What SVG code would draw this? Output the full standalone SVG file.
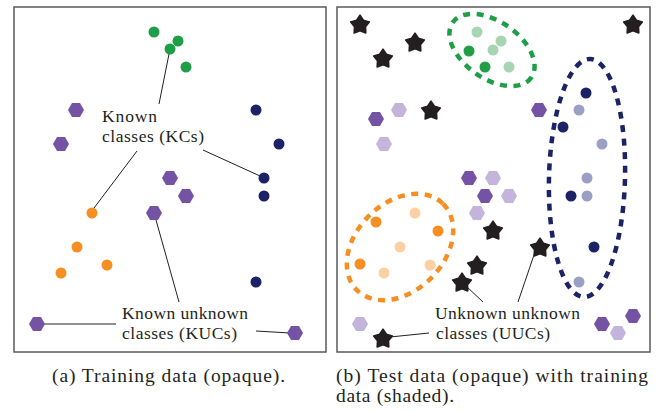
<svg xmlns="http://www.w3.org/2000/svg" xmlns:xlink="http://www.w3.org/1999/xlink" width="656" height="412" viewBox="0 0 656 412">
<style>
.panel{fill:#fff;stroke:#5a5a5a;stroke-width:1.5}
.lbl{font-family:"Liberation Serif","Times New Roman",serif;font-size:17.5px;fill:#231f20}
.cap{font-family:"Liberation Serif","Times New Roman",serif;font-size:19.5px;fill:#231f20}
.ln{stroke:#231f20;stroke-width:1;fill:none}
.lng{stroke:#6d6d6d;stroke-width:1.6;fill:none}
.g{fill:#1f9e48}.gl{fill:#a8d5b1}
.o{fill:#f68e21}.ol{fill:#fcd0a2}
.n{fill:#1b2265}.nl{fill:#9c9fc4}
.p{fill:#7453a4}.pl{fill:#c2b4db}
.s{fill:#231f20;stroke:#231f20;stroke-width:1.6;stroke-linejoin:round}
.ell{fill:none;stroke-width:4.5;stroke-dasharray:7 6.5}
</style>
<defs>
<circle id="dot" r="5.5"/>
<path id="hex" d="M8,0 L4,6.93 L-4,6.93 L-8,0 L-4,-6.93 L4,-6.93 Z"/>
<path id="star" d="M0,-9.8 L3.4,-4.7 L9.3,-3.0 L5.5,1.8 L5.8,7.9 L0,5.8 L-5.8,7.9 L-5.5,1.8 L-9.3,-3.0 L-3.4,-4.7 Z"/>
</defs>

<rect class="panel" x="14" y="7" width="312" height="345"/>
<rect class="panel" x="337" y="7" width="313" height="345"/>

<g id="connectors">
<line class="ln" x1="169" y1="54" x2="159" y2="104"/>
<line class="ln" x1="137" y1="151" x2="94" y2="208"/>
<line class="ln" x1="203" y1="150" x2="260" y2="176"/>
<line class="ln" x1="156" y1="220" x2="179" y2="302"/>
<line class="lng" x1="40" y1="324" x2="116" y2="324"/>
<line class="ln" x1="256" y1="331" x2="290" y2="333"/>
<line class="ln" x1="466" y1="286" x2="483" y2="302"/>
<line class="ln" x1="535" y1="252" x2="518" y2="302"/>
<line class="ln" x1="390" y1="337" x2="429" y2="333"/>
</g>

<g id="a-green">
<use xlink:href="#dot" class="g" x="154" y="32"/>
<use xlink:href="#dot" class="g" x="178" y="41"/>
<use xlink:href="#dot" class="g" x="170" y="49"/>
<use xlink:href="#dot" class="g" x="186" y="67"/>
</g>
<g id="a-navy">
<use xlink:href="#dot" class="n" x="256" y="110"/>
<use xlink:href="#dot" class="n" x="279" y="144"/>
<use xlink:href="#dot" class="n" x="264" y="178"/>
<use xlink:href="#dot" class="n" x="264" y="196"/>
<use xlink:href="#dot" class="n" x="256" y="282"/>
</g>
<g id="a-orange">
<use xlink:href="#dot" class="o" x="92" y="213"/>
<use xlink:href="#dot" class="o" x="77" y="247"/>
<use xlink:href="#dot" class="o" x="107" y="265"/>
<use xlink:href="#dot" class="o" x="61" y="273"/>
</g>
<g id="a-purple">
<use xlink:href="#hex" class="p" x="76" y="110"/>
<use xlink:href="#hex" class="p" x="61" y="144"/>
<use xlink:href="#hex" class="p" x="170" y="178"/>
<use xlink:href="#hex" class="p" x="186" y="196"/>
<use xlink:href="#hex" class="p" x="154" y="213"/>
<use xlink:href="#hex" class="p" x="37" y="324"/>
<use xlink:href="#hex" class="p" x="295" y="333"/>
</g>

<g id="label-kc"><text class="lbl" x="102" y="122" textLength="55">Known</text><text class="lbl" x="102" y="142" textLength="102">classes (KCs)</text></g>
<g id="label-kuc"><text class="lbl" x="122" y="319" textLength="126">Known unknown</text><text class="lbl" x="122" y="338.5" textLength="115">classes (KUCs)</text></g>

<g id="b-shaded">
<use xlink:href="#dot" class="gl" x="477" y="32"/>
<use xlink:href="#dot" class="gl" x="501" y="41"/>
<use xlink:href="#dot" class="gl" x="493" y="50"/>
<use xlink:href="#dot" class="gl" x="509" y="67"/>
<use xlink:href="#dot" class="nl" x="579" y="110"/>
<use xlink:href="#dot" class="nl" x="602" y="144"/>
<use xlink:href="#dot" class="nl" x="587" y="178"/>
<use xlink:href="#dot" class="nl" x="587" y="196"/>
<use xlink:href="#dot" class="nl" x="579" y="282"/>
<use xlink:href="#dot" class="ol" x="415" y="213"/>
<use xlink:href="#dot" class="ol" x="400" y="247"/>
<use xlink:href="#dot" class="ol" x="430" y="265"/>
<use xlink:href="#dot" class="ol" x="384" y="273"/>
<use xlink:href="#hex" class="pl" x="399" y="110"/>
<use xlink:href="#hex" class="pl" x="384" y="144"/>
<use xlink:href="#hex" class="pl" x="493" y="178"/>
<use xlink:href="#hex" class="pl" x="509" y="196"/>
<use xlink:href="#hex" class="pl" x="477" y="213"/>
<use xlink:href="#hex" class="pl" x="360" y="324"/>
<use xlink:href="#hex" class="pl" x="618" y="333"/>
</g>
<g id="b-green">
<use xlink:href="#dot" class="g" x="469" y="51"/>
<use xlink:href="#dot" class="g" x="485" y="67"/>
<ellipse class="ell" stroke="#1f9e48" cx="492" cy="50" rx="48" ry="28.5" transform="rotate(35 492 50)"/>
</g>
<g id="b-navy">
<use xlink:href="#dot" class="n" x="586" y="93"/>
<use xlink:href="#dot" class="n" x="563" y="127"/>
<use xlink:href="#dot" class="n" x="571" y="196"/>
<use xlink:href="#dot" class="n" x="594" y="247"/>
<ellipse class="ell" stroke="#1b2265" cx="587" cy="178" rx="38" ry="119" transform="rotate(1.5 587 178)"/>
</g>
<g id="b-orange">
<use xlink:href="#dot" class="o" x="376" y="222"/>
<use xlink:href="#dot" class="o" x="438" y="231"/>
<use xlink:href="#dot" class="o" x="360" y="264"/>
<ellipse class="ell" stroke="#f68e21" cx="400" cy="247" rx="61" ry="44" transform="rotate(-45 400 247)"/>
</g>
<g id="b-purple">
<use xlink:href="#hex" class="p" x="376" y="119"/>
<use xlink:href="#hex" class="p" x="539" y="110"/>
<use xlink:href="#hex" class="p" x="469" y="178"/>
<use xlink:href="#hex" class="p" x="485" y="196"/>
<use xlink:href="#hex" class="p" x="602" y="324"/>
<use xlink:href="#hex" class="p" x="633" y="316"/>
</g>
<g id="b-stars">
<use xlink:href="#star" class="s" x="360" y="25"/>
<use xlink:href="#star" class="s" x="415" y="43"/>
<use xlink:href="#star" class="s" x="383" y="59"/>
<use xlink:href="#star" class="s" x="633" y="25"/>
<use xlink:href="#star" class="s" x="431" y="111"/>
<use xlink:href="#star" class="s" x="493" y="231"/>
<use xlink:href="#star" class="s" x="540" y="248"/>
<use xlink:href="#star" class="s" x="477" y="266"/>
<use xlink:href="#star" class="s" x="462" y="283"/>
<use xlink:href="#star" class="s" x="383" y="339"/>
</g>
<g id="label-uuc"><text class="lbl" x="435" y="319" textLength="145">Unknown unknown</text><text class="lbl" x="436" y="338.5" textLength="114">classes (UUCs)</text></g>

<g id="captions">
<text class="cap" x="52" y="382" textLength="233">(a) Training data (opaque).</text>
<text class="cap" x="336" y="382" textLength="312">(b) Test data (opaque) with training</text>
<text class="cap" x="336" y="402" textLength="118">data (shaded).</text>
</g>
</svg>
